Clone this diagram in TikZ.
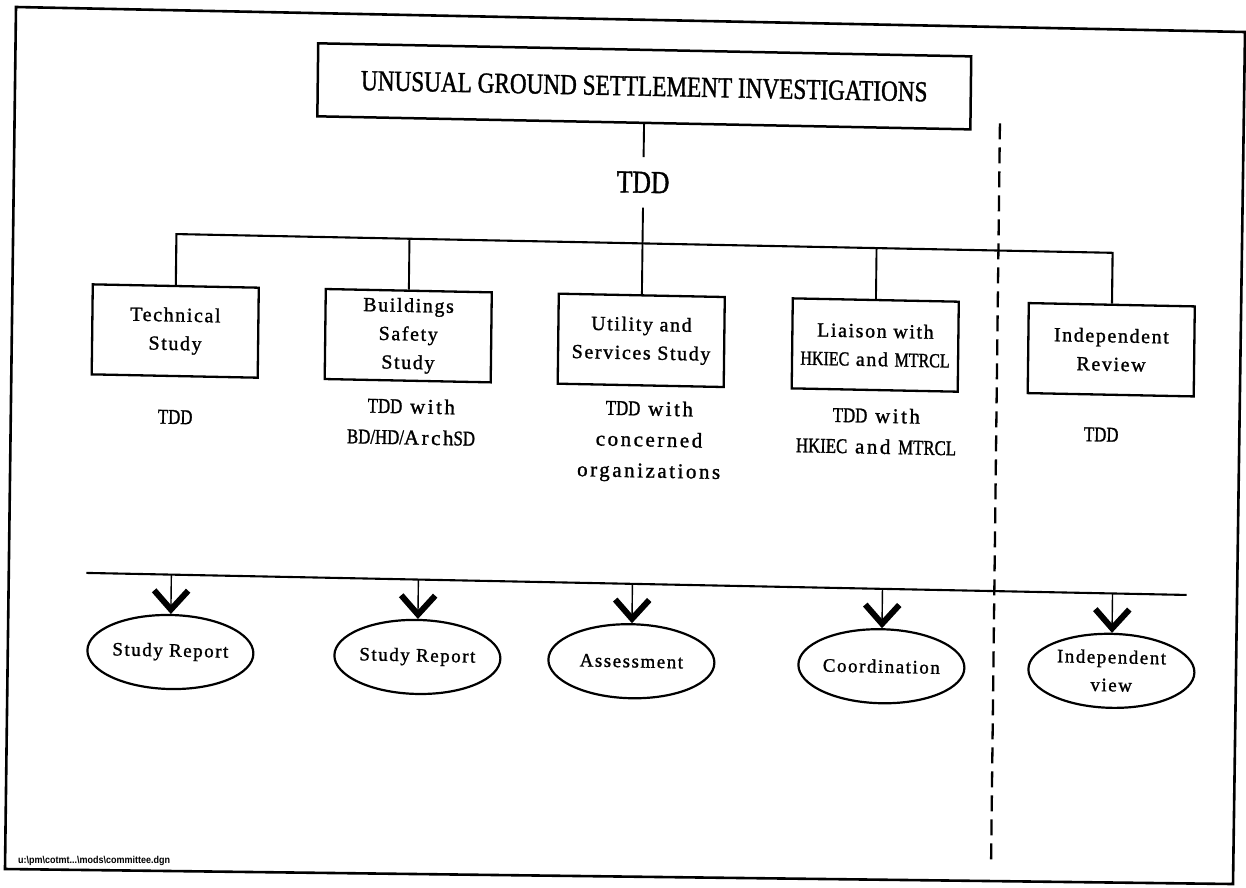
\documentclass[tikz,border=0pt]{standalone}
\usepackage{fontspec}
\setmainfont{Liberation Serif}
\newfontfamily\cnd[FakeStretch=0.8,FakeBold=1.2]{Liberation Serif}
\newfontfamily\wid[LetterSpace=8,FakeBold=1.2]{Liberation Serif}
\newfontfamily\widlab[LetterSpace=12,FakeBold=1.2]{Liberation Serif}
\newfontfamily\pathfont[FakeStretch=0.9]{Liberation Sans}
\usetikzlibrary{shapes.geometric,arrows.meta}
\tikzset{
  framel/.style={line width=2.6pt},
  titlebox/.style={draw, line width=2.5pt, minimum width=653pt, minimum height=73pt, inner sep=0pt,
    font=\cnd\fontsize{29}{34}\selectfont},
  midlabel/.style={inner sep=0pt, minimum height=50pt, font=\cnd\fontsize{32}{36}\selectfont},
  stepbox/.style={draw, line width=2.3pt, minimum width=166pt, minimum height=90pt, inner sep=0pt,
    align=center, font=\wid\fontsize{20}{28.5}\selectfont},
  lab/.style={align=center, inner sep=0pt, font=\widlab\fontsize{21}{31}\selectfont},
  oval/.style={draw, ellipse, line width=2.2pt, minimum width=166pt, minimum height=74pt, inner sep=0pt,
    align=center, font=\wid\fontsize{19}{28}\selectfont},
  tree/.style={line width=1.9pt},
  busline/.style={line width=2.1pt},
  outarrow/.style={line width=1.4pt, -{Straight Barb[length=19pt,width=34pt,line width=6pt]}},
  divider/.style={line width=2.3pt, dash pattern=on 16pt off 8pt},
}
\begin{document}
\begin{tikzpicture}[x=1pt,y=-1pt]
\fill[white] (0,0) rectangle (1246,887);
\useasboundingbox (0,0) rectangle (1246,887);
% outer frame
\draw[framel] (16,7) -- (1245,32) -- (1233,884) -- (5,869) -- cycle;
\node[anchor=west, inner sep=0pt, font=\pathfont\bfseries\fontsize{10}{11}\selectfont] (path) at (18,861)
  {u:\textbackslash pm\textbackslash cotmt...\textbackslash mods\textbackslash committee.dgn};
\begin{scope}[cm={1,-0.02,0.012,1,(5.316pt,12.46pt)}, transform shape]
  \node[titlebox] (title) at (640,86) {UNUSUAL GROUND SETTLEMENT INVESTIGATIONS};
  \node[midlabel] (tdd) at (640,182) {TDD};
  \coordinate (j1) at (174,243);
  \coordinate (j2) at (407,243);
  \coordinate (j3) at (640,243);
  \coordinate (j4) at (874,243);
  \coordinate (j5) at (1110,243);
  \node[stepbox] (t1) at (174,340) {Technical\\Study};
  \node[stepbox] (t2) at (407,340) {Buildings\\Safety\\Study};
  \node[stepbox] (t3) at (640,340) {Utility and\\Services Study};
  \node[stepbox] (t4) at (874,340) {Liaison with\\{\cnd HKIEC} and {\cnd MTRCL}};
  \node[stepbox] (t5) at (1110,340) {Independent\\Review};
  \draw[tree] (title) -- (tdd);
  \draw[tree] (tdd) -- (j3);
  \draw[busline] (t1.north) -- (j1) -- (j5) -- (t5.north);
  \draw[tree] (j2) -- (t2.north);
  \draw[tree] (j3) -- (t3.north);
  \draw[tree] (j4) -- (t4.north);
  \node[lab] (l1) at (175,426) {{\cnd TDD}};
  \node[lab] (l2) at (411,426) {{\cnd TDD} with\\{\cnd BD/HD/}Arch{\cnd SD}};
  \node[lab] (l3) at (649,441) {{\cnd TDD} with\\concerned\\organizations};
  \node[lab] (l4) at (876,426) {{\cnd TDD} with\\{\cnd HKIEC} and {\cnd MTRCL}};
  \node[lab] (l5) at (1101,425) {{\cnd TDD}};
  \draw[divider] (996,116) coordinate (d1) -- (996,853) coordinate (d2);
  \coordinate (bl) at (88,583.5);
  \coordinate (br) at (1188,583.5);
  \draw[busline] (bl) -- (br);
  \node[oval] (e1) at (173,661) {Study Report};
  \node[oval] (e2) at (420,661) {Study Report};
  \node[oval] (e3) at (634,661) {Assessment};
  \node[oval] (e4) at (884,661) {Coordination};
  \node[oval] (e5) at (1114,661) {Independent\\view};
  \coordinate (a1) at (173,583.5);
  \coordinate (a2) at (420,583.5);
  \coordinate (a3) at (634,583.5);
  \coordinate (a4) at (884,583.5);
  \coordinate (a5) at (1114,583.5);
  \draw[outarrow] (a1) -- (e1.north);
  \draw[outarrow] (a2) -- (e2.north);
  \draw[outarrow] (a3) -- (e3.north);
  \draw[outarrow] (a4) -- (e4.north);
  \draw[outarrow] (a5) -- (e5.north);
\end{scope}
\end{tikzpicture}
\end{document}
